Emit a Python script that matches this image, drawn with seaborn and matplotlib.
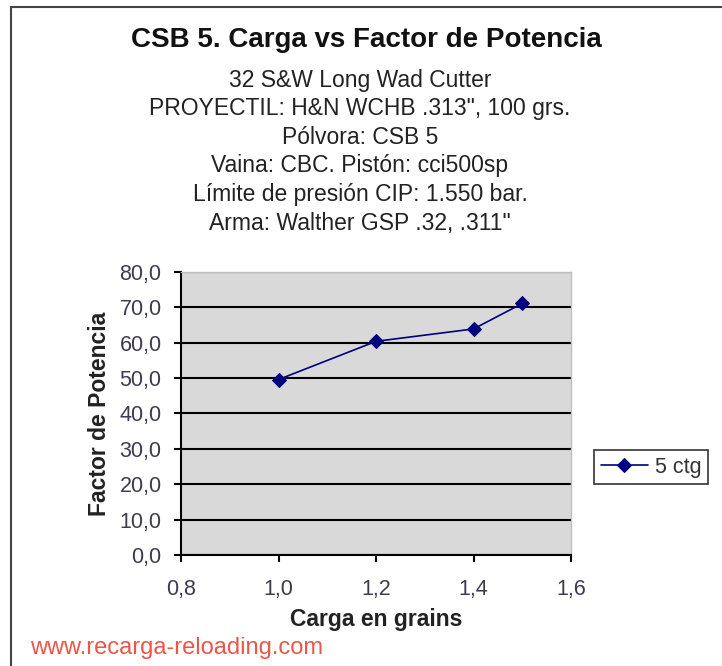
import pandas as pd
import matplotlib.pyplot as plt
import matplotlib.ticker as mticker
import seaborn as sns

# datos
carga = [1.0, 1.2, 1.4, 1.5]
factor = [49.6, 60.4, 63.9, 71.1]
serie = "5 ctg"

titulo = "CSB 5. Carga vs Factor de Potencia"
subtitulos = [
    "32 S&W Long Wad Cutter",
    "PROYECTIL: H&N WCHB .313\", 100 grs.",
    "Pólvora: CSB 5",
    "Vaina: CBC. Pistón: cci500sp",
    "Límite de presión CIP: 1.550 bar.",
    "Arma: Walther GSP .32, .311\"",
]
web = "www.recarga-reloading.com"

df = pd.DataFrame({"Carga": carga, "Factor": factor, "Serie": serie})

sns.set_theme(style="white")
plt.rcParams["font.family"] = ["Liberation Sans", "DejaVu Sans"]

fig = plt.figure(figsize=(7.22, 6.66), dpi=100)
ax = fig.add_axes([0.2507, 0.1667, 0.5402, 0.4249])
ax.set_facecolor("#d9d9d9")

sns.lineplot(data=df, x="Carga", y="Factor", hue="Serie", palette=["#000080"],
             marker="D", markersize=7, markeredgecolor="#000080", linewidth=1.2, ax=ax)

ax.set_xlim(0.8, 1.6)
ax.set_ylim(0, 80)
ax.xaxis.set_major_locator(mticker.MultipleLocator(0.2))
ax.yaxis.set_major_locator(mticker.MultipleLocator(10))
ax.xaxis.set_major_formatter(mticker.FuncFormatter(lambda v, p: f"{v:.1f}".replace(".", ",")))
ax.yaxis.set_major_formatter(mticker.FuncFormatter(lambda v, p: f"{v:.1f}".replace(".", ",")))
ax.yaxis.grid(True, color="black", linewidth=1.5)
ax.set_axisbelow(True)
for s in ["top", "right"]:
    ax.spines[s].set_color("#bfbfbf")
    ax.spines[s].set_linewidth(1)
for s in ["left", "bottom"]:
    ax.spines[s].set_color("black")
    ax.spines[s].set_linewidth(1.5)
ax.tick_params(axis="both", direction="out", length=5, width=1.5, color="black",
               labelsize=15.5, labelcolor="#403a50", left=True, bottom=True)
ax.tick_params(axis="x", pad=12)
ax.tick_params(axis="y", pad=9)

ax.set_xlabel("Carga en grains", fontsize=16.5, fontweight="bold", color="#222222", labelpad=6)
ax.set_ylabel("Factor de Potencia", fontsize=16.5, fontweight="bold", color="#222222", labelpad=6)

ax.legend_.remove()
leg = fig.legend(handles=ax.get_lines()[:1], labels=[serie], loc="center",
                 bbox_to_anchor=(651 / 722, 1 - 467 / 666), fontsize=15.5,
                 frameon=True, fancybox=False, edgecolor="black", handlelength=2.2,
                 borderpad=0.3, handletextpad=0.3)
leg.get_frame().set_linewidth(1.2)
for t in leg.get_texts():
    t.set_color("#333333")

fig.text(366 / 722, 1 - 40 / 666, titulo, ha="center", va="center",
         fontsize=20, fontweight="bold", color="#111111")
y0 = 80
for i, linea in enumerate(subtitulos):
    fig.text(360 / 722, 1 - (y0 + i * 28.6) / 666, linea, ha="center", va="center",
             fontsize=16.5, color="#222222")

fig.text(30 / 722, 1 - 648 / 666, web, ha="left", va="center", fontsize=17, color="#e8574a")

# marco exterior
fig.add_artist(plt.Line2D([11 / 722, 11 / 722], [0, 1 - 7 / 666], color="#444444",
                          linewidth=1.5, transform=fig.transFigure))
fig.add_artist(plt.Line2D([11 / 722, 1], [1 - 7 / 666, 1 - 7 / 666], color="#444444",
                          linewidth=1.5, transform=fig.transFigure))

fig.savefig("out.png", dpi=100, facecolor="white")
